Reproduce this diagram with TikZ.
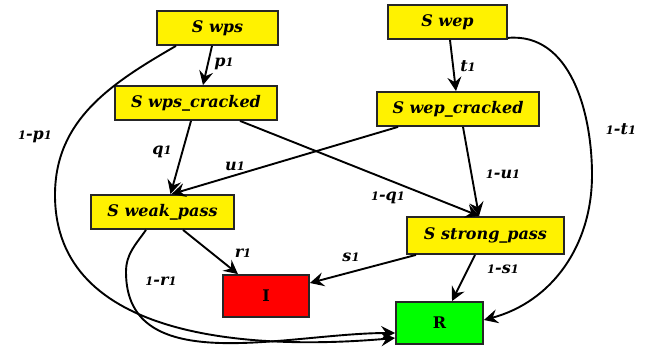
\documentclass[tikz,border=0pt]{standalone}
\usepackage{fontspec}
\newfontfamily\dfont{DejaVu Serif}
\usetikzlibrary{arrows.meta}
\newcommand{\osone}{{\fontsize{11.5}{10}\selectfont 1}}
\tikzset{
  every picture/.style={x=1pt,y=-1pt},
  box/.style={draw=black!85, line width=1.8pt, inner sep=0pt,
    font=\dfont\fontsize{16}{18}\selectfont\bfseries\itshape},
  ybox/.style={box, fill=yellow},
  lbl/.style={inner sep=0pt, font=\dfont\fontsize{16}{18}\selectfont\bfseries\itshape},
  conn/.style={line width=1.9pt, -{Stealth[length=14pt,width=14pt,inset=5pt]}}
}
\begin{document}
\begin{tikzpicture}
\useasboundingbox (0,0) rectangle (654,354);
\node[ybox, minimum width=121pt, minimum height=34pt] (wps) at (217.5,28) {S wps};
\node[ybox, minimum width=119pt, minimum height=34pt] (wep) at (447.5,22) {S wep};
\node[ybox, minimum width=162pt, minimum height=34pt] (wpsc) at (196,103) {S wps\_cracked};
\node[ybox, minimum width=162pt, minimum height=34pt] (wepc) at (458,109) {S wep\_cracked};
\node[ybox, minimum width=143pt, minimum height=34pt] (weak) at (162.5,212) {S weak\_pass};
\node[ybox, minimum width=157pt, minimum height=37pt] (strong) at (485.5,235.5) {S strong\_pass};
\node[box, fill=red, minimum width=86pt, minimum height=42pt, font=\dfont\fontsize{16}{18}\selectfont\bfseries] (I) at (266,296) {I};
\node[box, fill=green, minimum width=87pt, minimum height=42pt, font=\dfont\fontsize{16}{18}\selectfont\bfseries] (R) at (439.5,323) {R};

\draw[conn] ([xshift=-5.5pt]wps.south) -- ([xshift=7pt]wpsc.north);
\draw[conn] ([xshift=2.5pt]wep.south) -- ([xshift=-2pt]wepc.north);
\draw[conn] ([xshift=-5pt]wpsc.south) -- ([xshift=8pt]weak.north);
\draw[conn] ([xshift=-60pt]wepc.south) -- ([xshift=9pt]weak.north);
\draw[conn] ([xshift=44pt]wpsc.south) -- ([xshift=-6pt]strong.north);
\draw[conn] ([xshift=5pt]wepc.south) -- ([xshift=-6.5pt]strong.north);
\draw[conn] ([xshift=20.5pt]weak.south) -- ([xshift=-28pt]I.north);
\draw[conn] ([xshift=-69.5pt]strong.south) -- ([yshift=13pt]I.east);
\draw[conn] ([xshift=-10.5pt]strong.south) -- ([xshift=12.5pt]R.north);
\draw[conn] ([xshift=-41.5pt]wps.south) to[out=210,in=90] (55,195) to[out=270,in=185] ([yshift=-15pt]R.west);
\draw[conn] ([xshift=-16.5pt]weak.south) to[out=235,in=90] (126,272) to[out=270,in=180] ([yshift=-10pt]R.west);
\draw[conn] ([yshift=2pt]wep.south east) to[out=5,in=90] (592,175) to[out=270,in=15] ([yshift=3pt]R.east);

\node[lbl] (lp) at (224,64) {p\osone};
\node[lbl] (lt) at (468,66) {t\osone};
\node[lbl] (l1p) at (35,137) {\osone-p\osone};
\node[lbl] (lq) at (162,152) {q\osone};
\node[lbl] (lu) at (235,166) {u\osone};
\node[lbl] (l1t) at (621,129) {\osone-t\osone};
\node[lbl] (l1u) at (503,174) {\osone-u\osone};
\node[lbl] (l1q) at (388,198) {\osone-q\osone};
\node[lbl] (ls) at (351,257) {s\osone};
\node[lbl] (l1s) at (503,269) {\osone-s\osone};
\node[lbl] (lr) at (243,253) {r\osone};
\node[lbl] (l1r) at (161,281) {\osone-r\osone};
\end{tikzpicture}
\end{document}
